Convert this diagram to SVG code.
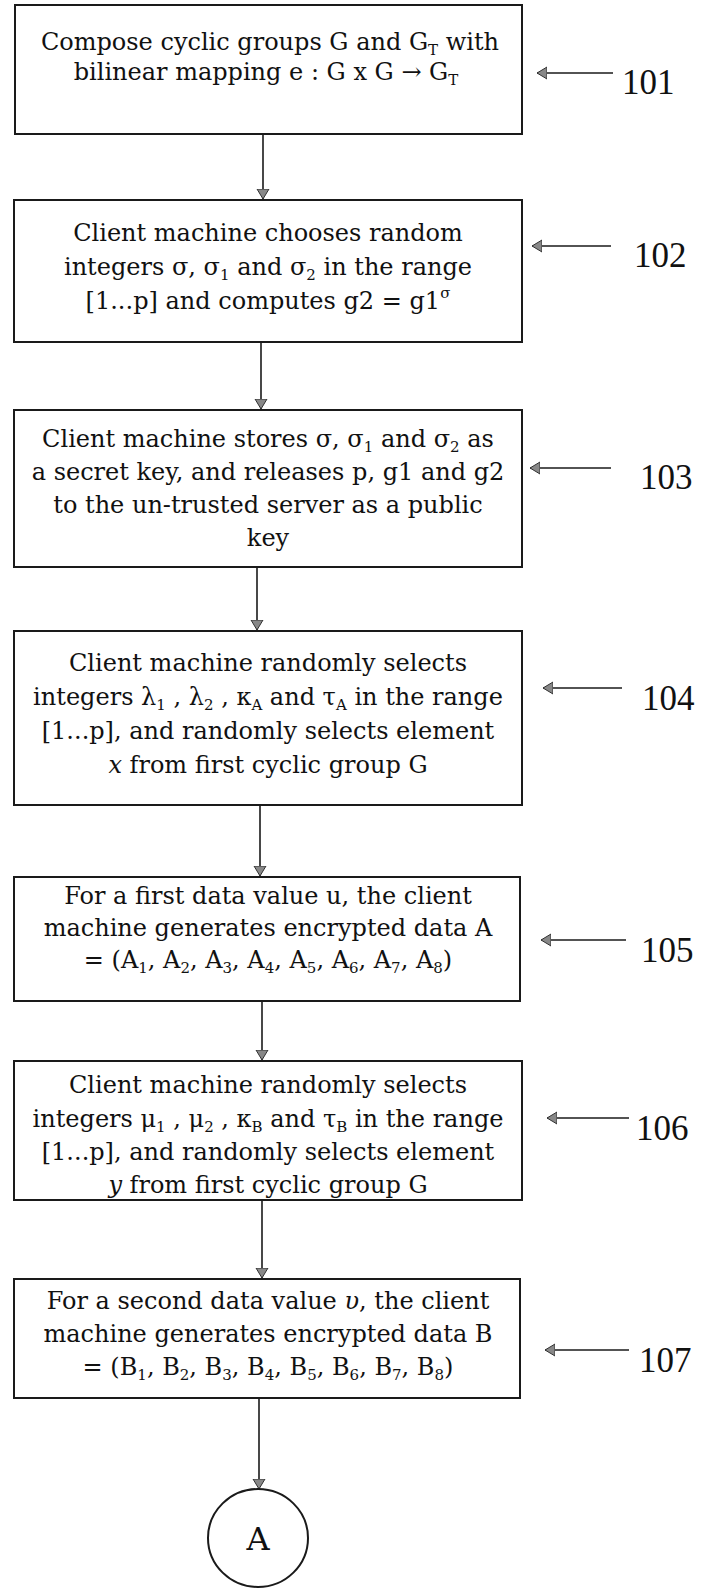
<svg xmlns="http://www.w3.org/2000/svg" width="710" height="1589" viewBox="0 0 710 1589">
<style>
.box{fill:#fff;stroke:#1a1a1a;stroke-width:2}
.t{font-family:"DejaVu Serif","Liberation Serif",serif;font-size:24px;fill:#111;text-anchor:middle}
.s{font-size:15px}
.lbl{font-family:"Liberation Serif",serif;font-size:35px;fill:#111}
.con{stroke:#1a1a1a;stroke-width:1.6;fill:none}
</style>
<defs>
<marker id="ah" viewBox="0 0 10 16" refX="10" refY="8" markerWidth="10" markerHeight="16" markerUnits="userSpaceOnUse" orient="auto">
<path d="M0,2 L10,8 L0,14 Z" fill="#888" stroke="#333" stroke-width="1"/>
</marker>
</defs>
<rect width="710" height="1589" fill="#fff"/>
<g id="connectors">
<line class="con" x1="263" y1="134" x2="263" y2="199" marker-end="url(#ah)"/>
<line class="con" x1="261" y1="342" x2="261" y2="409" marker-end="url(#ah)"/>
<line class="con" x1="257" y1="567" x2="257" y2="630" marker-end="url(#ah)"/>
<line class="con" x1="260" y1="805" x2="260" y2="876" marker-end="url(#ah)"/>
<line class="con" x1="262" y1="1001" x2="262" y2="1060" marker-end="url(#ah)"/>
<line class="con" x1="262" y1="1200" x2="262" y2="1278" marker-end="url(#ah)"/>
<line class="con" x1="259" y1="1398" x2="259" y2="1489" marker-end="url(#ah)"/>
<line class="con" x1="613" y1="73" x2="537" y2="73" marker-end="url(#ah)"/>
<line class="con" x1="611" y1="246" x2="532" y2="246" marker-end="url(#ah)"/>
<line class="con" x1="611" y1="468" x2="530" y2="468" marker-end="url(#ah)"/>
<line class="con" x1="622" y1="688" x2="543" y2="688" marker-end="url(#ah)"/>
<line class="con" x1="626" y1="940" x2="541" y2="940" marker-end="url(#ah)"/>
<line class="con" x1="629" y1="1118" x2="547" y2="1118" marker-end="url(#ah)"/>
<line class="con" x1="629" y1="1350" x2="545" y2="1350" marker-end="url(#ah)"/>
</g>
<g id="n101">
<rect class="box" x="15" y="5" width="507" height="129"/>
<text class="t" x="270" y="50">Compose cyclic groups G and G<tspan class="s" dy="5">T</tspan><tspan dy="-5"> with</tspan></text>
<text class="t" x="266" y="80">bilinear mapping e : G x G → G<tspan class="s" dy="5">T</tspan></text>
<text class="lbl" x="622" y="94">101</text>
</g>
<g id="n102">
<rect class="box" x="14" y="200" width="508" height="142"/>
<text class="t" x="268" y="241">Client machine chooses random</text>
<text class="t" x="268" y="275">integers σ, σ<tspan class="s" dy="5">1</tspan><tspan dy="-5"> and σ</tspan><tspan class="s" dy="5">2</tspan><tspan dy="-5">  in the range</tspan></text>
<text class="t" x="268" y="309">[1...p] and computes g2 = g1<tspan class="s" dy="-11">σ</tspan></text>
<text class="lbl" x="634" y="267">102</text>
</g>
<g id="n103">
<rect class="box" x="14" y="410" width="508" height="157"/>
<text class="t" x="268" y="447">Client machine stores σ, σ<tspan class="s" dy="5">1</tspan><tspan dy="-5"> and σ</tspan><tspan class="s" dy="5">2</tspan><tspan dy="-5">  as</tspan></text>
<text class="t" x="268" y="480">a secret key, and releases p, g1 and g2</text>
<text class="t" x="268" y="513">to the un-trusted server as a public</text>
<text class="t" x="268" y="546">key</text>
<text class="lbl" x="640" y="489">103</text>
</g>
<g id="n104">
<rect class="box" x="14" y="631" width="508" height="174"/>
<text class="t" x="268" y="671">Client machine randomly selects</text>
<text class="t" x="268" y="705">integers λ<tspan class="s" dy="5">1</tspan><tspan dy="-5"> , λ</tspan><tspan class="s" dy="5">2</tspan><tspan dy="-5"> , κ</tspan><tspan class="s" dy="5">A</tspan><tspan dy="-5"> and τ</tspan><tspan class="s" dy="5">A</tspan><tspan dy="-5"> in the range</tspan></text>
<text class="t" x="268" y="739">[1...p], and randomly selects element</text>
<text class="t" x="268" y="773"><tspan font-style="italic">x</tspan> from first cyclic group G</text>
<text class="lbl" x="642" y="710">104</text>
</g>
<g id="n105">
<rect class="box" x="14" y="877" width="506" height="124"/>
<text class="t" x="268" y="904">For a first data value u, the client</text>
<text class="t" x="268" y="936">machine generates encrypted data A</text>
<text class="t" x="268" y="968">= (A<tspan class="s" dy="5">1</tspan><tspan dy="-5">, A</tspan><tspan class="s" dy="5">2</tspan><tspan dy="-5">, A</tspan><tspan class="s" dy="5">3</tspan><tspan dy="-5">, A</tspan><tspan class="s" dy="5">4</tspan><tspan dy="-5">, A</tspan><tspan class="s" dy="5">5</tspan><tspan dy="-5">, A</tspan><tspan class="s" dy="5">6</tspan><tspan dy="-5">, A</tspan><tspan class="s" dy="5">7</tspan><tspan dy="-5">, A</tspan><tspan class="s" dy="5">8</tspan><tspan dy="-5">)</tspan></text>
<text class="lbl" x="641" y="962">105</text>
</g>
<g id="n106">
<rect class="box" x="14" y="1061" width="508" height="139"/>
<text class="t" x="268" y="1093">Client machine randomly selects</text>
<text class="t" x="268" y="1127">integers μ<tspan class="s" dy="5">1</tspan><tspan dy="-5"> , μ</tspan><tspan class="s" dy="5">2</tspan><tspan dy="-5"> , κ</tspan><tspan class="s" dy="5">B</tspan><tspan dy="-5"> and τ</tspan><tspan class="s" dy="5">B</tspan><tspan dy="-5"> in the range</tspan></text>
<text class="t" x="268" y="1160">[1...p], and randomly selects element</text>
<text class="t" x="268" y="1193"><tspan font-style="italic">y</tspan> from first cyclic group G</text>
<text class="lbl" x="636" y="1140">106</text>
</g>
<g id="n107">
<rect class="box" x="14" y="1279" width="506" height="119"/>
<text class="t" x="268" y="1309">For a second data value <tspan font-style="italic">υ</tspan>, the client</text>
<text class="t" x="268" y="1342">machine generates encrypted data B</text>
<text class="t" x="268" y="1375">= (B<tspan class="s" dy="5">1</tspan><tspan dy="-5">, B</tspan><tspan class="s" dy="5">2</tspan><tspan dy="-5">, B</tspan><tspan class="s" dy="5">3</tspan><tspan dy="-5">, B</tspan><tspan class="s" dy="5">4</tspan><tspan dy="-5">, B</tspan><tspan class="s" dy="5">5</tspan><tspan dy="-5">, B</tspan><tspan class="s" dy="5">6</tspan><tspan dy="-5">, B</tspan><tspan class="s" dy="5">7</tspan><tspan dy="-5">, B</tspan><tspan class="s" dy="5">8</tspan><tspan dy="-5">)</tspan></text>
<text class="lbl" x="639" y="1372">107</text>
</g>
<g id="nA">
<ellipse class="box" cx="258" cy="1538" rx="50" ry="49"/>
<text class="t" x="258" y="1550" style="font-size:32px">A</text>
</g>
</svg>
